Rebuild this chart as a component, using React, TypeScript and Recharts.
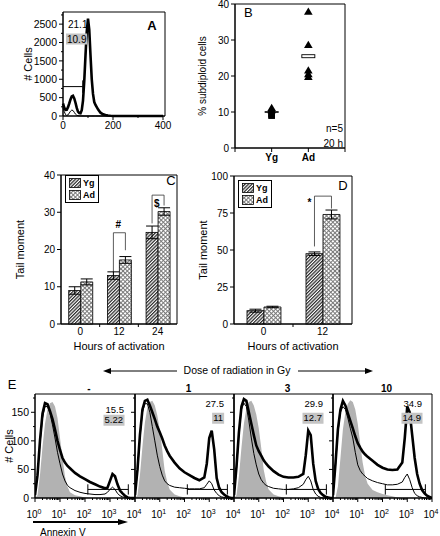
import React from "react";
import {
  Area,
  Bar,
  BarChart,
  ComposedChart,
  ErrorBar,
  Legend,
  Line,
  ReferenceArea,
  ReferenceLine,
  Scatter,
  ScatterChart,
  XAxis,
  YAxis,
} from "recharts";

const FONT = '"Liberation Sans", Arial, Helvetica, sans-serif';

// ---- panel A: DNA content histogram
const aBins = [0, 5, 10, 15, 20, 25, 30, 35, 40, 45, 50, 55, 60, 65, 70, 75, 80, 85, 90, 95, 100, 105, 110, 115, 120, 125, 130, 140, 150, 160, 170, 180, 190, 200, 250, 300, 350, 400];
const aThick = [340, 230, 165, 170, 240, 340, 450, 530, 550, 480, 360, 220, 120, 80, 75, 160, 420, 950, 1650, 2300, 2650, 2350, 1650, 1000, 600, 380, 300, 180, 90, 45, 25, 12, 5, 0, 0, 0, 0, 0];
const aThin = [220, 120, 40, 15, 30, 80, 130, 160, 150, 100, 50, 20, 8, 5, 3, 2, 1, 0, 0, 0, 0, 0, 0, 0, 0, 0, 0, 0, 0, 0, 0, 0, 0, 0, 0, 0, 0, 0];
const aGate = { from: 0, to: 79, level: 800 };
const aNumbers = ["21.1", "10.9"];

// ---- panel B: % subdiploid cells
const bGroups = ["Yg", "Ad"];
const bYgTri = [11.2, 10.6];
const bYgSq = [9.5, 9.1, 9.0];
const bAdTri = [37.9, 28.7, 21.6, 20.6, 19.8];
const bMeans = [10.0, 25.5];

// ---- panel C / D: tail moment
const cHours = ["0", "12", "24"];
const cYg = [9.0, 13.0, 24.6];
const cYgErr = [1.0, 1.0, 1.7];
const cAd = [11.3, 17.2, 30.2];
const cAdErr = [0.8, 0.9, 1.0];
const cSig = [null, { text: "#", left: 13.8, top: 24.5, right: 19.8, at: 26.6, side: "right" }, { text: "$", left: 27.0, top: 34.6, right: 31.8, at: 32.4, side: "right" }];

const dHours = ["0", "12"];
const dYg = [9.0, 47.5];
const dYgErr = [1.0, 1.2];
const dAd = [11.5, 74.0];
const dAdErr = [0.5, 3.0];
const dSig = [null, { text: "*", left: 52.4, top: 86.4, right: 78.0, at: 82.3, side: "left" }];

// ---- panel E: annexin V histograms
const eLevels = [1, 1.26, 1.58, 2, 2.51, 3.16, 3.98, 5.01, 6.31, 7.94, 10, 12.6, 15.8, 20, 25.1, 39.8, 63.1, 100, 158, 251, 398, 631, 794, 1000, 1259, 1585, 1995, 2512, 3162, 3981, 5012, 6310, 7943, 10000];
const eDoses = ["-", "1", "3", "10"];
const eTotal = ["15.5", "27.5", "29.9", "34.9"];
const eGated = ["5.22", "11", "12.7", "14.9"];
const eGray = [
  [0, 5, 40, 90, 130, 155, 166, 168, 160, 140, 105, 70, 38, 20, 10, 5, 3, 1, 0, 0, 0, 0, 0, 0, 0, 0, 0, 0, 0, 0, 0, 0, 0, 0],
  [0, 5, 40, 90, 132, 158, 168, 170, 162, 145, 120, 85, 48, 28, 15, 6, 3, 1, 0, 0, 0, 0, 0, 0, 0, 0, 0, 0, 0, 0, 0, 0, 0, 0],
  [0, 5, 38, 88, 130, 157, 168, 170, 162, 146, 122, 88, 50, 28, 15, 6, 3, 1, 0, 0, 0, 0, 0, 0, 0, 0, 0, 0, 0, 0, 0, 0, 0, 0],
  [0, 0, 20, 70, 120, 150, 165, 171, 168, 155, 130, 95, 62, 38, 25, 14, 10, 7, 5, 3, 1, 0, 0, 0, 0, 0, 0, 0, 0, 0, 0, 0, 0, 0],
];
const eThick = [
  [5, 40, 100, 148, 166, 164, 152, 138, 120, 100, 84, 70, 62, 56, 52, 44, 38, 33, 28, 24, 20, 17, 18, 30, 42, 38, 24, 13, 8, 4, 1, 0, 0, 0],
  [5, 50, 110, 155, 170, 172, 162, 150, 138, 125, 115, 104, 92, 82, 74, 62, 52, 45, 40, 35, 31, 36, 60, 105, 118, 85, 35, 18, 10, 6, 3, 1, 0, 0],
  [5, 55, 115, 160, 173, 170, 150, 130, 110, 92, 82, 74, 66, 60, 55, 47, 41, 37, 36, 36, 37, 42, 75, 118, 110, 60, 30, 16, 9, 5, 2, 1, 0, 0],
  [5, 60, 120, 155, 170, 162, 148, 135, 122, 108, 96, 88, 81, 76, 72, 65, 58, 53, 50, 49, 50, 62, 105, 160, 150, 110, 70, 42, 25, 14, 8, 4, 2, 0],
];
const eThin = [
  [5, 40, 95, 140, 160, 160, 148, 128, 105, 80, 60, 42, 30, 22, 18, 13, 10, 8, 7, 6, 6, 7, 10, 15, 19, 15, 8, 4, 2, 1, 0, 0, 0, 0],
  [5, 45, 105, 150, 165, 165, 150, 125, 100, 75, 55, 40, 30, 25, 22, 19, 18, 17, 16, 16, 16, 18, 24, 30, 25, 14, 8, 4, 2, 1, 0, 0, 0, 0],
  [5, 50, 110, 155, 166, 160, 135, 105, 78, 58, 42, 32, 26, 22, 20, 17, 16, 15, 15, 16, 18, 24, 32, 38, 30, 15, 7, 3, 1, 0, 0, 0, 0, 0],
  [5, 55, 115, 150, 160, 155, 140, 122, 105, 80, 58, 48, 42, 38, 34, 30, 27, 25, 23, 23, 24, 28, 36, 42, 32, 18, 8, 4, 2, 1, 0, 0, 0, 0],
];
const eGate = { from: 130, to: 5400, level: 15 };

const eDecades = [1, 10, 100, 1000, 10000];
const eTicks = [...eDecades, ...eDecades.slice(0, -1).flatMap((d) => [2, 3, 4, 5, 6, 7, 8, 9].map((m) => m * d))].sort((p, q) => p - q);

// ---- tick renderers (tickSize 0 so x/y sit on the axis line)
const leftTick = (isMajor: (v: number) => boolean, showText: boolean, size = 10) => (p: any) => {
  const v = p.payload.value;
  const major = isMajor(v);
  return (
    <g>
      <line x1={p.x} x2={p.x - (major ? 4 : 2)} y1={p.y} y2={p.y} stroke="#000" />
      {showText && major && (
        <text x={p.x - 6} y={p.y} dy="0.35em" textAnchor="end" fontSize={size} fill="#000">
          {v}
        </text>
      )}
    </g>
  );
};

const bottomTick = (isMajor: (v: number) => boolean, fmt: (v: number) => string, gap: number, bold = false) => (p: any) => {
  const v = p.payload.value;
  const major = isMajor(v);
  const label = major ? fmt(v) : "";
  return (
    <g>
      <line x1={p.x} x2={p.x} y1={p.y} y2={p.y + (major ? 4 : 2)} stroke="#000" />
      {label !== "" && (
        <text x={p.x} y={p.y + gap} dy="0.71em" textAnchor="middle" fontSize={10} fontWeight={bold ? 700 : 400} fill="#000">
          {label}
        </text>
      )}
    </g>
  );
};

const bandTick = (p: any) => {
  const count = p.visibleTicksCount ?? 1;
  const half = p.payload.offset ?? (p.width ?? 0) / count / 2;
  const edge = p.x + half;
  return (
    <g>
      <text x={p.x} y={p.y + 4} dy="0.71em" textAnchor="middle" fontSize={10} fill="#000">
        {p.payload.value}
      </text>
      {p.index < count - 1 && <line x1={edge} x2={edge} y1={p.y} y2={p.y + 3} stroke="#000" />}
    </g>
  );
};

const logTick = (showFirst: boolean) => (p: any) => {
  const v = p.payload.value;
  const ex = Math.log10(v);
  const n = Math.round(ex);
  const decade = Math.abs(ex - n) < 1e-6;
  const show = decade && (n > 0 || showFirst);
  return (
    <g>
      <line x1={p.x} x2={p.x} y1={p.y} y2={p.y + (decade ? 4 : 2)} stroke="#000" />
      {show && (
        <text x={p.x - 1} y={p.y + 13} dy="0.71em" textAnchor="middle" fontSize={10} fill="#000">
          <tspan>10</tspan>
          <tspan dy={-4} fontSize={7}>
            {n}
          </tspan>
        </text>
      )}
    </g>
  );
};

const yTitle = (value: string, offset: number, size = 11) => ({
  value,
  angle: -90,
  position: "insideLeft" as const,
  offset,
  style: { textAnchor: "middle", fontSize: size, fill: "#000" },
});

// scatter markers
const triMark = (p: any) => <polygon points={`${p.cx},${p.cy - 4} ${p.cx - 4.3},${p.cy + 3.3} ${p.cx + 4.3},${p.cy + 3.3}`} fill="#000" />;
const sqMark = (p: any) => <rect x={p.cx - 3.3} y={p.cy - 3.3} width={6.6} height={6.6} fill="#000" />;
const meanLine = (p: any) => <rect x={p.cx - 7} y={p.cy - 0.8} width={14} height={1.6} fill="#000" />;
const meanBox = (p: any) => <rect x={p.cx - 6.5} y={p.cy - 1.5} width={13} height={3} fill="#fff" stroke="#000" strokeWidth={0.9} />;

function Note({ x, y, size = 10, bold = false, align = "left", bg, children }: any) {
  const tx = align === "left" ? "0" : align === "center" ? "-50%" : "-100%";
  return (
    <div
      style={{
        position: "absolute",
        left: x,
        top: y,
        transform: `translate(${tx}, -50%)`,
        fontSize: size,
        lineHeight: `${size + 1}px`,
        fontWeight: bold ? 700 : 400,
        background: bg,
        padding: bg ? "0 1px" : 0,
        whiteSpace: "nowrap",
        color: "#000",
      }}
    >
      {children}
    </div>
  );
}

function Patterns() {
  return (
    <svg width={0} height={0} style={{ position: "absolute" }}>
      <defs>
        <pattern id="hatchYg" patternUnits="userSpaceOnUse" width={2.4} height={2.4} patternTransform="rotate(45)">
          <rect width={2.4} height={2.4} fill="#fff" />
          <line x1={0.6} y1={0} x2={0.6} y2={2.4} stroke="#2a2a2a" strokeWidth={1.3} />
        </pattern>
        <pattern id="crossAd" patternUnits="userSpaceOnUse" width={3} height={3} patternTransform="rotate(45)">
          <rect width={3} height={3} fill="#fff" />
          <path d="M0.5 0 V3 M0 0.5 H3" stroke="#7a7a7a" strokeWidth={1} />
        </pattern>
      </defs>
    </svg>
  );
}

function PanelA() {
  const rows = aBins.map((x, i) => ({ x, thick: aThick[i], thin: aThin[i] }));
  return (
    <div style={{ position: "absolute", left: 0, top: 0 }}>
      <ComposedChart width={176} height={140} data={rows} margin={{ top: 12, right: 11, left: 0, bottom: 0 }}>
        <XAxis
          dataKey="x"
          type="number"
          domain={[0, 408]}
          ticks={[0, 100, 200, 300, 400]}
          interval={0}
          height={24}
          tickLine={false}
          tickSize={0}
          tickMargin={0}
          axisLine={{ stroke: "#000" }}
          tick={bottomTick((v) => v % 200 === 0, (v) => String(v), 6)}
        />
        <YAxis
          type="number"
          domain={[0, 2830]}
          ticks={[0, 250, 500, 750, 1000, 1250, 1500, 1750, 2000, 2250, 2500, 2750]}
          interval={0}
          width={63}
          tickLine={false}
          tickSize={0}
          tickMargin={0}
          axisLine={{ stroke: "#000" }}
          tick={leftTick((v) => v % 500 === 0, true, 10.5)}
          label={yTitle("# Cells", 28)}
        />
        <ReferenceArea x1={0} x2={408} y1={0} y2={2830} fill="none" stroke="#000" />
        <Line dataKey="thin" type="linear" stroke="#000" strokeWidth={1} dot={false} isAnimationActive={false} />
        <Line dataKey="thick" type="linear" stroke="#000" strokeWidth={2.6} dot={false} isAnimationActive={false} />
        <ReferenceLine segment={[{ x: aGate.from, y: aGate.level }, { x: aGate.to, y: aGate.level }]} stroke="#000" />
        <ReferenceLine segment={[{ x: aGate.to, y: aGate.level - 170 }, { x: aGate.to, y: aGate.level + 170 }]} stroke="#000" />
      </ComposedChart>
    </div>
  );
}

function PanelB() {
  const pts = (vals: number[], x: number) => vals.map((y) => ({ x, y }));
  return (
    <div style={{ position: "absolute", left: 195, top: 0 }}>
      <ScatterChart width={155} height={168} margin={{ top: 4, right: 5, left: 0, bottom: 0 }}>
        <XAxis
          dataKey="x"
          type="number"
          domain={[0, 3]}
          ticks={[0, 1, 2, 3]}
          interval={0}
          height={20}
          tickLine={false}
          tickSize={0}
          tickMargin={0}
          axisLine={{ stroke: "#000" }}
          tick={bottomTick(() => true, (v) => bGroups[v - 1] ?? "", 6, true)}
        />
        <YAxis
          dataKey="y"
          type="number"
          domain={[0, 40]}
          ticks={[0, 10, 20, 30, 40]}
          interval={0}
          width={40}
          tickLine={false}
          tickSize={0}
          tickMargin={0}
          axisLine={{ stroke: "#000" }}
          tick={leftTick(() => true, true, 10)}
          label={yTitle("% subdiploid cells", 7, 10)}
        />
        <ReferenceArea x1={0} x2={3} y1={0} y2={40} fill="none" stroke="#000" />
        <Scatter data={pts(bYgTri, 1)} shape={triMark} isAnimationActive={false} />
        <Scatter data={pts(bYgSq, 1)} shape={sqMark} isAnimationActive={false} />
        <Scatter data={pts(bAdTri, 2)} shape={triMark} isAnimationActive={false} />
        <Scatter data={[{ x: 1, y: bMeans[0] }]} shape={meanLine} isAnimationActive={false} />
        <Scatter data={[{ x: 2, y: bMeans[1] }]} shape={meanBox} isAnimationActive={false} />
      </ScatterChart>
    </div>
  );
}

function BarLegend() {
  const row = (id: string, name: string) => (
    <div style={{ display: "flex", alignItems: "center", height: 12 }}>
      <svg width={12} height={10} style={{ marginRight: 2 }}>
        <rect x={0.5} y={0.5} width={11} height={9} fill={`url(#${id})`} stroke="#000" strokeWidth={0.8} />
      </svg>
      <span>{name}</span>
    </div>
  );
  return (
    <div style={{ border: "1px solid #000", background: "#fff", padding: "1px 3px 1px 3px", fontSize: 9, fontWeight: 700, lineHeight: "12px", fontFamily: FONT }}>
      {row("hatchYg", "Yg")}
      {row("crossAd", "Ad")}
    </div>
  );
}

function BarPanel(props: any) {
  const { left, top, width, yW, mTop, hours, yg, ygErr, ad, adErr, sig, yMax, yTicks, gap, legendAt, titleOffset } = props;
  const rows = hours.map((h: string, i: number) => ({ h, yg: yg[i], ygErr: ygErr[i], ad: ad[i], adErr: adErr[i], sig: sig[i] }));
  const ygShape = (p: any) => {
    const { x, y, width: w, height: hgt, payload } = p;
    const s = payload.sig;
    const parts = [<rect key="r" x={x} y={y} width={w} height={hgt} fill="url(#hatchYg)" stroke="#000" strokeWidth={0.8} />];
    if (s && payload.yg > 0) {
      const base = y + hgt;
      const pu = hgt / payload.yg;
      const lx = x + w / 2;
      const rx = x + w * 1.5;
      parts.push(
        <path key="b" d={`M${lx},${base - s.left * pu} V${base - s.top * pu} H${rx} V${base - s.right * pu}`} fill="none" stroke="#333" strokeWidth={0.8} />
      );
      parts.push(
        <text key="t" x={s.side === "left" ? lx - 3 : lx + 2} y={base - s.at * pu} dy="0.35em" textAnchor={s.side === "left" ? "end" : "start"} fontSize={10} fontWeight={700} fill="#000">
          {s.text}
        </text>
      );
    }
    return <g>{parts}</g>;
  };
  return (
    <div style={{ position: "absolute", left, top }}>
      <BarChart width={width} height={196} data={rows} margin={{ top: mTop, right: 5, left: 0, bottom: 6 }} barGap={0} barCategoryGap={gap}>
        <XAxis
          dataKey="h"
          interval={0}
          height={26}
          tickLine={false}
          tickSize={0}
          tickMargin={0}
          axisLine={{ stroke: "#000" }}
          tick={bandTick}
          label={{ value: "Hours of activation", position: "insideBottom", offset: 0, style: { fontSize: 11, fill: "#000" } }}
        />
        <YAxis
          type="number"
          domain={[0, yMax]}
          ticks={yTicks}
          interval={0}
          width={yW}
          tickLine={false}
          tickSize={0}
          tickMargin={0}
          axisLine={{ stroke: "#000" }}
          tick={leftTick(() => true, true, 10)}
          label={yTitle("Tail moment", titleOffset)}
        />
        <ReferenceArea y1={0} y2={yMax} fill="none" stroke="#000" />
        <Legend layout="vertical" align="center" verticalAlign="middle" content={() => <BarLegend />} wrapperStyle={{ left: legendAt[0], top: legendAt[1], width: "auto" }} />
        <Bar dataKey="yg" name="Yg" fill="url(#hatchYg)" stroke="#000" shape={ygShape} isAnimationActive={false}>
          <ErrorBar dataKey="ygErr" width={6} stroke="#000" strokeWidth={1} isAnimationActive={false} />
        </Bar>
        <Bar dataKey="ad" name="Ad" fill="url(#crossAd)" stroke="#000" strokeWidth={0.8} isAnimationActive={false}>
          <ErrorBar dataKey="adErr" width={6} stroke="#000" strokeWidth={1} isAnimationActive={false} />
        </Bar>
      </BarChart>
    </div>
  );
}

const E_LEFT = [35, 135, 234, 333];
const E_WIDTH = [100, 99, 99, 99];

function EPanel({ i }: { i: number }) {
  const first = i === 0;
  const yW = first ? 35 : 6;
  const rows = eLevels.map((x, k) => ({ x, gray: eGray[i][k], thick: eThick[i][k], thin: eThin[i][k] }));
  return (
    <div style={{ position: "absolute", left: E_LEFT[i] - yW, top: 386 }}>
      <ComposedChart width={yW + E_WIDTH[i] + 12} height={136} data={rows} margin={{ top: 8, right: 12, left: 0, bottom: 0 }}>
        <XAxis
          dataKey="x"
          type="number"
          scale="log"
          domain={[1, 10000]}
          ticks={eTicks}
          interval={0}
          height={24}
          tickLine={false}
          tickSize={0}
          tickMargin={0}
          axisLine={{ stroke: "#000" }}
          tick={logTick(first)}
          allowDataOverflow
        />
        <YAxis
          type="number"
          domain={[0, 182]}
          ticks={[0, 25, 50, 75, 100, 125, 150, 175]}
          interval={0}
          width={yW}
          tickLine={false}
          tickSize={0}
          tickMargin={0}
          axisLine={{ stroke: "#000" }}
          tick={leftTick((v) => v % 50 === 0, first, 10.5)}
          label={first ? yTitle("# Cells", 9) : undefined}
        />
        <Area dataKey="gray" type="linear" stroke="none" fill="#b2b2b2" fillOpacity={1} isAnimationActive={false} />
        <Line dataKey="thin" type="linear" stroke="#000" strokeWidth={1} dot={false} isAnimationActive={false} />
        <Line dataKey="thick" type="linear" stroke="#000" strokeWidth={2.6} dot={false} isAnimationActive={false} />
        <ReferenceLine segment={[{ x: eGate.from, y: eGate.level }, { x: eGate.to, y: eGate.level }]} stroke="#000" />
        <ReferenceLine segment={[{ x: eGate.from, y: eGate.level - 9 }, { x: eGate.from, y: eGate.level + 9 }]} stroke="#000" />
        <ReferenceLine segment={[{ x: eGate.to, y: eGate.level - 9 }, { x: eGate.to, y: eGate.level + 9 }]} stroke="#000" />
        <ReferenceArea x1={1} x2={10000} y1={0} y2={182} fill="none" stroke="#000" />
      </ComposedChart>
    </div>
  );
}

function Arrow({ x1, x2, y, head = 8, half = 3, width = 1 }: any) {
  const dir = x2 > x1 ? 1 : -1;
  const lo = Math.min(x1, x2) - 2;
  const w = Math.abs(x2 - x1) + 4;
  return (
    <svg width={w} height={half * 2 + 2} style={{ position: "absolute", left: lo, top: y - half - 1 }}>
      <line x1={x1 - lo} x2={x2 - lo - dir * head} y1={half + 1} y2={half + 1} stroke="#000" strokeWidth={width} />
      <polygon points={`${x2 - lo},${half + 1} ${x2 - lo - dir * head},1 ${x2 - lo - dir * head},${half * 2 + 1}`} fill="#000" />
    </svg>
  );
}

export default function App() {
  return (
    <div style={{ position: "absolute", left: 0, top: 0, width: 440, height: 536, overflow: "hidden", background: "#fff", fontFamily: FONT, color: "#000" }}>
      <Patterns />
      <PanelA />
      <PanelB />
      <BarPanel
        left={0}
        top={160}
        width={182}
        yW={61}
        mTop={15}
        hours={cHours}
        yg={cYg}
        ygErr={cYgErr}
        ad={cAd}
        adErr={cAdErr}
        sig={cSig}
        yMax={40}
        yTicks={[0, 10, 20, 30, 40]}
        gap="20%"
        legendAt={[65, 15]}
        titleOffset={20}
      />
      <BarPanel
        left={195}
        top={160}
        width={162}
        yW={39}
        mTop={16}
        hours={dHours}
        yg={dYg}
        ygErr={dYgErr}
        ad={dAd}
        adErr={dAdErr}
        sig={dSig}
        yMax={100}
        yTicks={[0, 25, 50, 75, 100]}
        gap="22%"
        legendAt={[43, 20]}
        titleOffset={8}
      />
      {eDoses.map((_, i) => (
        <EPanel key={i} i={i} />
      ))}

      {/* panel letters and in-plot numbers */}
      <Note x={152} y={26} size={13} bold align="center">A</Note>
      <Note x={68} y={24} size={10}>{aNumbers[0]}</Note>
      <Note x={66} y={39} size={10} bg="#c4c4c4">{aNumbers[1]}</Note>
      <Note x={244} y={13} size={13}>B</Note>
      <Note x={343} y={128} size={10} align="right">n=5</Note>
      <Note x={343} y={143} size={10} align="right">20 h</Note>
      <Note x={171} y={181} size={13} align="center">C</Note>
      <Note x={343} y={186} size={13} align="center">D</Note>
      <Note x={12} y={385} size={13} align="center">E</Note>

      <Arrow x1={177} x2={103} y={371} head={8} half={3} />
      <Note x={237} y={371} size={10.5} align="center">Dose of radiation in Gy</Note>
      <Arrow x1={298} x2={373} y={371} head={8} half={3} />
      {eDoses.map((d, i) => (
        <Note key={d} x={E_LEFT[i] + E_WIDTH[i] / 2 + 4} y={388} size={10} bold align="center">
          {d}
        </Note>
      ))}
      {eTotal.map((t, i) => (
        <Note key={t} x={E_LEFT[i] + E_WIDTH[i] - (i === 0 ? 11 : 10)} y={i === 0 ? 410 : 404} size={9.5} align="right">
          {t}
        </Note>
      ))}
      {eGated.map((t, i) => (
        <Note key={t} x={E_LEFT[i] + E_WIDTH[i] - (i === 0 ? 11 : 10)} y={i === 0 ? 420 : 418} size={9.5} align="right" bg="#c4c4c4">
          {t}
        </Note>
      ))}
      <Arrow x1={33} x2={128} y={522} head={10} half={3} width={2} />
      <Note x={40} y={532} size={10}>Annexin V</Note>
    </div>
  );
}
